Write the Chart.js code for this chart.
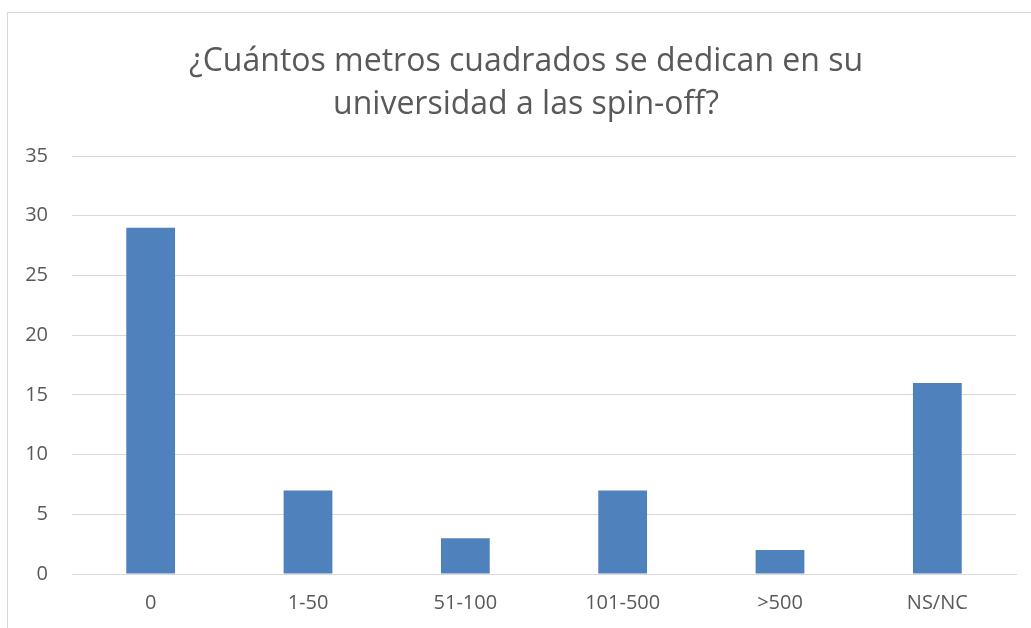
<!DOCTYPE html>
<html>
<head>
<meta charset="utf-8">
<script src="https://cdn.jsdelivr.net/npm/chart.js@4/dist/chart.umd.min.js"></script>
<style>
  html, body { margin: 0; padding: 0; background: #fff; overflow: hidden; }
  #wrap { position: relative; width: 1031px; height: 628px; }
  #frame { position: absolute; left: 7px; top: 12px; width: 1100px; height: 700px;
           border: 1px solid #d9d9d9; box-sizing: border-box; }
  #c { position: absolute; left: 0; top: 0; }
</style>
</head>
<body>
<div id="wrap">
  <div id="frame"></div>
  <canvas id="c" width="1031" height="628"></canvas>
</div>
<script>
const categories = ['0', '1-50', '51-100', '101-500', '>500', 'NS/NC'];
const respuestas = [29, 7, 3, 7, 2, 16];
const yTicks = [0, 5, 10, 15, 20, 25, 30, 35];
const titleLines = ['¿Cuántos metros cuadrados se dedican en su', 'universidad a las spin-off?'];

const FONT = '"Open Sans", "Noto Sans", sans-serif';
const TEXT = '#595959';
const GRID = '#d9d9d9';

// Centre the title over the inner chart frame rather than the whole canvas.
const titleInset = {
  id: 'titleInset',
  afterLayout(chart) {
    if (chart.titleBlock) { chart.titleBlock.left += 36; }
  }
};

new Chart(document.getElementById('c'), {
  type: 'bar',
  data: {
    labels: categories,
    datasets: [{
      data: respuestas,
      backgroundColor: '#4f81bd',
      borderWidth: 0,
      categoryPercentage: 1,
      barPercentage: 0.31
    }]
  },
  plugins: [titleInset],
  options: {
    responsive: false,
    animation: false,
    layout: { padding: { left: 0, right: 15, top: 0, bottom: 0 } },
    plugins: {
      legend: { display: false },
      tooltip: { enabled: false },
      title: {
        display: true,
        text: titleLines,
        color: TEXT,
        font: { family: FONT, size: 32, weight: 'normal', lineHeight: 1.36 },
        padding: { top: 40, bottom: 29 }
      }
    },
    scales: {
      x: {
        grid: { display: false, drawTicks: false },
        border: { display: true, color: GRID, width: 1 },
        ticks: { color: TEXT, font: { family: FONT, size: 20 }, padding: 17, maxRotation: 0 },
        afterFit: (s) => { s.height = 54; }
      },
      y: {
        min: 0,
        max: 35,
        afterBuildTicks: (s) => { s.ticks = yTicks.map(v => ({ value: v })); },
        grid: { color: GRID, lineWidth: 1, drawTicks: false },
        border: { display: false },
        ticks: { color: TEXT, font: { family: FONT, size: 20 }, padding: 24 },
        afterFit: (s) => { s.width = 72; }
      }
    }
  }
});
</script>
</body>
</html>
